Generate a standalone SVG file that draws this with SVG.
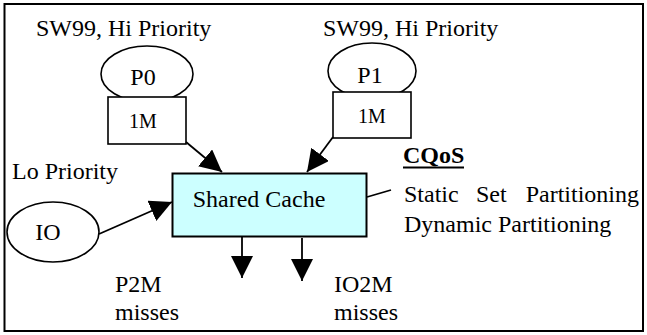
<svg xmlns="http://www.w3.org/2000/svg" width="647" height="335" viewBox="0 0 647 335">
<defs>
<style>
.c{text-anchor:middle}
.shape{fill:#fff;stroke:#000;stroke-width:1.6}
.conn{stroke:#000;stroke-width:1.8;fill:none}
</style>
<marker id="ah" markerUnits="userSpaceOnUse" markerWidth="22" markerHeight="22" refX="20" refY="10" orient="auto" viewBox="0 0 20 20">
<path d="M0,0 L20,10 L0,20 z" fill="#000"/>
</marker>
</defs>
<rect x="0" y="0" width="647" height="335" fill="#fff"/>
<rect x="4.5" y="4" width="638.5" height="327" fill="none" stroke="#000" stroke-width="2"/>

<g font-family="Liberation Serif, Times New Roman, serif" font-size="24" fill="#000">
<text x="36" y="36">SW99, Hi Priority</text>
<text x="323" y="36">SW99, Hi Priority</text>
<text x="12" y="179">Lo Priority</text>

<g id="P0">
<ellipse class="shape" cx="147" cy="74" rx="46" ry="28"/>
<rect class="shape" x="108" y="97" width="78" height="47"/>
<text class="c" x="143" y="85">P0</text>
<text class="c" font-size="20" x="143" y="128">1M</text>
</g>

<g id="P1">
<ellipse class="shape" cx="372" cy="71" rx="44" ry="28"/>
<rect class="shape" x="333" y="92" width="78" height="46"/>
<text class="c" x="370" y="83">P1</text>
<text class="c" font-size="20" x="372" y="123">1M</text>
</g>

<g id="IO">
<ellipse class="shape" cx="53" cy="232" rx="46" ry="30"/>
<text class="c" x="48" y="240">IO</text>
</g>

<g id="cache">
<rect x="172.5" y="173.5" width="194" height="63" fill="#ccffff" stroke="#000" stroke-width="2"/>
<text class="c" x="259" y="207">Shared Cache</text>
</g>

<g id="cqos">
<text x="403" y="163" font-weight="bold">CQoS</text>
<line x1="403" y1="167.5" x2="464" y2="167.5" stroke="#000" stroke-width="2"/>
<text x="404" y="202">Static</text>
<text x="476" y="202">Set</text>
<text x="639" y="202" text-anchor="end">Partitioning</text>
<text x="404" y="232">Dynamic Partitioning</text>
</g>

<g id="misses">
<text x="115" y="292">P2M</text>
<text x="115" y="320">misses</text>
<text x="334" y="292">IO2M</text>
<text x="334" y="320">misses</text>
</g>
</g>

<g id="connectors">
<line class="conn" x1="186" y1="142" x2="222" y2="172" marker-end="url(#ah)"/>
<line class="conn" x1="333" y1="137" x2="307" y2="172" marker-end="url(#ah)"/>
<line class="conn" x1="99" y1="234" x2="172" y2="202" marker-end="url(#ah)"/>
<line class="conn" x1="242" y1="237" x2="242" y2="278" marker-end="url(#ah)"/>
<line class="conn" x1="302" y1="238" x2="302" y2="281" marker-end="url(#ah)"/>
<line class="conn" x1="367" y1="197" x2="391" y2="190"/>
</g>
</svg>
